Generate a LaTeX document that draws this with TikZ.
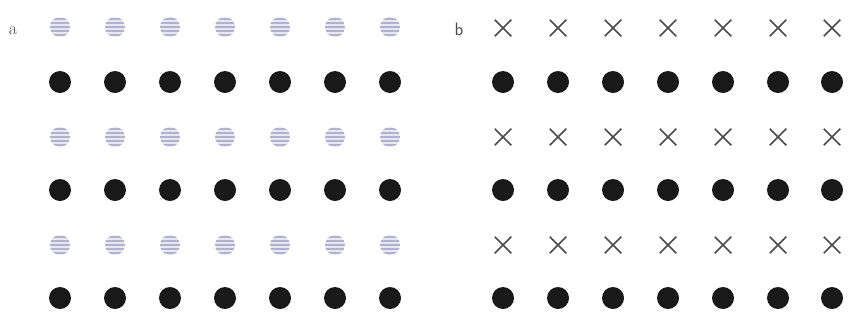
\documentclass[tikz,border=0pt]{standalone}
\usetikzlibrary{shapes.misc}
\definecolor{hatch}{RGB}{178,178,208}
\definecolor{hatchbg}{RGB}{232,232,240}
\definecolor{ink}{RGB}{25,25,25}
\definecolor{crossc}{RGB}{75,75,75}
\begin{document}
\begin{tikzpicture}[x=1pt,y=-1pt,
  blackdot/.style={circle,fill=ink,minimum size=22pt,inner sep=0pt},
  hatchdot/.style={circle,fill=hatchbg,minimum size=20pt,inner sep=0pt,
    path picture={\foreach \k in {-8,-4,...,8}{\draw[hatch,line width=1.7pt]
      ([yshift=\k pt]path picture bounding box.west) -- ([yshift=\k pt]path picture bounding box.east);}}},
  crossmark/.style={cross out,draw=crossc,line width=1.5pt,minimum size=15pt,inner sep=0pt},
  lbl/.style={font=\fontsize{18}{20}\selectfont,inner sep=0pt,text=black!70}]
\useasboundingbox (0,0) rectangle (856,325);
\node[lbl] (la) at (13,31) {a};
\node[lbl,font=\fontsize{18}{20}\selectfont\sffamily] (lb) at (459,29) {b};
\foreach \c [count=\i] in {60,115,170,225,280,335,390}{
  \foreach \r/\y in {1/27,3/137,5/245}{\node[hatchdot] (a-\r-\i) at (\c,\y) {};}
  \foreach \r/\y in {2/82,4/190,6/298}{\node[blackdot] (a-\r-\i) at (\c,\y) {};}
}
\foreach \c [count=\i] in {503,558,613,668,723,778,832}{
  \foreach \r/\y in {1/28,3/137,5/245}{\node[crossmark] (b-\r-\i) at (\c,\y) {};}
  \foreach \r/\y in {2/82,4/190,6/298}{\node[blackdot] (b-\r-\i) at (\c,\y) {};}
}
\end{tikzpicture}
\end{document}
